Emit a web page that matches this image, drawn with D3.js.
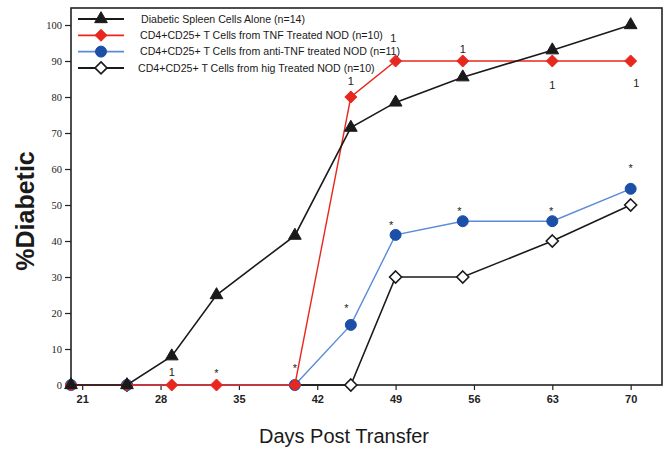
<!DOCTYPE html>
<html>
<head>
<meta charset="utf-8">
<script src="https://cdn.jsdelivr.net/npm/d3@7"></script>
<style>
  body { margin: 0; background: #fff; }
  svg { display: block; }
</style>
</head>
<body>
<div class="chart_container"></div>
<script>
// series (days post transfer, % diabetic)
var spleenDays = [20, 25, 29, 33, 40, 45, 49, 55, 63, 70];
var spleenVals = [0, 0, 8, 25, 41.5, 71.5, 78.5, 85.5, 93, 100];
var tnfDays = [20, 25, 29, 33, 40, 45, 49, 55, 63, 70];
var tnfVals = [0, 0, 0, 0, 0, 80, 90, 90, 90, 90];
var antiDays = [20, 25, 40, 45, 49, 55, 63, 70];
var antiVals = [0, 0, 0, 16.7, 41.7, 45.5, 45.5, 54.5];
var higDays = [25, 45, 49, 55, 63, 70];
var higVals = [0, 0, 30, 30, 40, 50];

var legendLabels = [
    "Diabetic Spleen Cells Alone (n=14)",
    "CD4+CD25+ T Cells from TNF Treated NOD (n=10)",
    "CD4+CD25+ T Cells from anti-TNF treated NOD (n=11)",
    "CD4+CD25+ T Cells from hig Treated NOD (n=10)"
];
var xTicks = [21, 28, 35, 42, 49, 56, 63, 70];
var yTicks = [0, 10, 20, 30, 40, 50, 60, 70, 80, 90, 100];

// significance marks: "1" and "*"
var noteDays = [29, 33, 40, 44.6, 48.6, 54.7, 62.9, 70, 45, 48.8, 55, 63, 70.5];
var noteVals = [3.6, 4.4, 5.8, 22.5, 45.5, 49.5, 49.5, 61.4, 84.6, 96.4, 93.4, 83.4, 84];
var noteText = ["1", "*", "*", "*", "*", "*", "*", "*", "1", "1", "1", "1", "1"];

var w = 664, h = 449;
var p_left = 71, p_right = 662, p_top = 8, p_bottom = 385;

var svg = d3.select('.chart_container')
    .append('svg')
    .attr('width', w)
    .attr('height', h);

var x_scale = d3.scaleLinear().domain([20, 72.8]).range([p_left, p_right]);
var y_scale = d3.scaleLinear().domain([0, 100]).range([p_bottom, 25]);

//frame
svg.append('rect')
    .attr('x', p_left).attr('y', p_top)
    .attr('width', p_right - p_left).attr('height', p_bottom - p_top)
    .attr('fill', 'none')
    .attr('stroke', '#222')
    .attr('stroke-width', 1.6);

//x axis
var x_axis = d3.axisBottom(x_scale).tickValues(xTicks).tickSize(5).tickPadding(5);
svg.append('g')
    .attr('transform', 'translate(0,' + p_bottom + ')')
    .call(x_axis)
    .call(g => g.select('.domain').remove())
    .call(g => g.selectAll('line').attr('stroke', '#222').attr('stroke-width', 1.2))
    .selectAll('text')
    .style('font-family', 'Arial, "Liberation Sans", sans-serif')
    .style('font-weight', 'bold')
    .style('font-size', '11px')
    .attr('fill', '#222');

//y axis
var y_axis = d3.axisLeft(y_scale).tickValues(yTicks).tickSize(6).tickPadding(3);
svg.append('g')
    .attr('transform', 'translate(' + p_left + ',0)')
    .call(y_axis)
    .call(g => g.select('.domain').remove())
    .call(g => g.selectAll('line').attr('stroke', '#222').attr('stroke-width', 1.2))
    .selectAll('text')
    .style('font-family', '"Liberation Serif", "Times New Roman", serif')
    .style('font-size', '10.5px')
    .attr('fill', '#222');

//axis labels
svg.append('text')
    .attr('transform', 'translate(34,211) rotate(-90)')
    .style('text-anchor', 'middle')
    .style('font-family', 'Arial, "Liberation Sans", sans-serif')
    .style('font-weight', 'bold')
    .style('font-size', '25px')
    .attr('fill', '#1a1a1a')
    .text('%Diabetic');
svg.append('text')
    .attr('x', 344).attr('y', 443)
    .style('text-anchor', 'middle')
    .style('font-family', 'Arial, "Liberation Sans", sans-serif')
    .style('font-size', '20px')
    .attr('fill', '#1a1a1a')
    .text('Days Post Transfer');

var series = [
    {days: higDays, vals: higVals, line: '#1a1a1a', lw: 1.6, shape: 'diamond', fill: '#fff', stroke: '#1a1a1a'},
    {days: antiDays, vals: antiVals, line: '#5a8ad8', lw: 1.4, shape: 'circle', fill: '#1b4fa8', stroke: '#1b4fa8'},
    {days: tnfDays, vals: tnfVals, line: '#e8281e', lw: 1.4, shape: 'diamond', fill: '#e8281e', stroke: '#e8281e'},
    {days: spleenDays, vals: spleenVals, line: '#1a1a1a', lw: 1.6, shape: 'triangle', fill: '#1a1a1a', stroke: '#1a1a1a'}
];

function symbolPath(shape) {
    if (shape === 'circle') return d3.symbol().type(d3.symbolCircle).size(95)();
    if (shape === 'triangle') return d3.symbol().type(d3.symbolTriangle).size(70)();
    return 'M0,-6L6,0L0,6L-6,0Z';
}

var line = d3.line().x(d => x_scale(d[0])).y(d => y_scale(d[1]));

series.forEach(function(s) {
    var pts = s.days.map((d, i) => [d, s.vals[i]]);
    svg.append('path')
        .attr('d', line(pts))
        .attr('fill', 'none')
        .attr('stroke', s.line)
        .attr('stroke-width', s.lw);
    svg.selectAll(null)
        .data(pts)
        .enter()
        .append('path')
        .attr('transform', d => 'translate(' + x_scale(d[0]) + ',' + y_scale(d[1]) + ')')
        .attr('d', symbolPath(s.shape))
        .attr('fill', s.fill)
        .attr('stroke', s.stroke)
        .attr('stroke-width', s.shape === 'diamond' && s.fill === '#fff' ? 1.6 : 1);
});

//significance marks
svg.selectAll('.note')
    .data(noteText)
    .enter()
    .append('text')
    .attr('class', 'note')
    .attr('x', (d, i) => x_scale(noteDays[i]))
    .attr('y', (d, i) => y_scale(noteVals[i]))
    .attr('dy', d => d === '*' ? '0.75em' : '0.38em')
    .style('text-anchor', 'middle')
    .style('font-family', 'Arial, "Liberation Sans", sans-serif')
    .style('font-size', '11px')
    .attr('fill', '#222')
    .text(d => d);

//legend
var legend = svg.selectAll('.legend_row')
    .data(series.slice().reverse())
    .enter()
    .append('g')
    .attr('class', 'legend_row')
    .attr('transform', (d, i) => 'translate(0,' + (19 + i * 16.3) + ')');
legend.append('line')
    .attr('x1', 78).attr('x2', 124)
    .attr('stroke', d => d.line)
    .attr('stroke-width', d => d.lw + 0.4);
legend.append('path')
    .attr('transform', 'translate(101,0)')
    .attr('d', d => symbolPath(d.shape))
    .attr('fill', d => d.fill)
    .attr('stroke', d => d.stroke)
    .attr('stroke-width', d => d.fill === '#fff' ? 1.6 : 1);
legend.append('text')
    .attr('x', (d, i) => [141, 140, 140, 138][i])
    .attr('y', 0)
    .attr('dy', '0.35em')
    .style('font-family', 'Arial, "Liberation Sans", sans-serif')
    .style('font-size', '10.6px')
    .attr('fill', '#1a1a1a')
    .text((d, i) => legendLabels[i]);
</script>
</body>
</html>
